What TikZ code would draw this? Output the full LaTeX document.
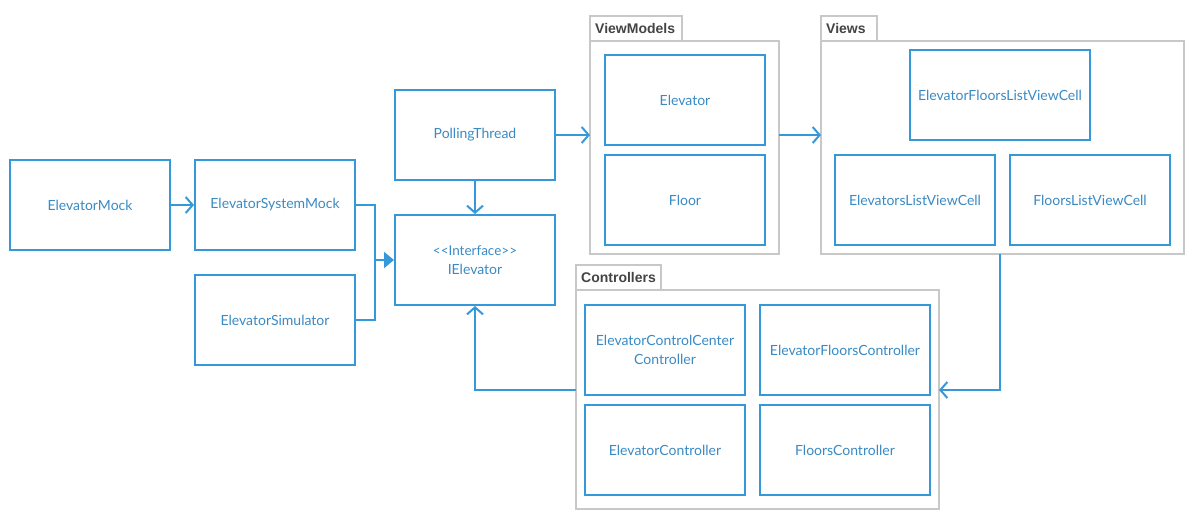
\documentclass[tikz,border=0pt]{standalone}
\usepackage{fontspec}
\setmainfont{Lato}
\newfontfamily\pkgfont{Liberation Sans}
\usetikzlibrary{arrows.meta}
\definecolor{umlblue}{HTML}{3498DB}
\definecolor{umltext}{HTML}{3A8AC4}
\definecolor{pkggray}{HTML}{C8C8C8}
\definecolor{pkgtext}{HTML}{444444}
\tikzset{
  cls/.style={draw=umlblue, line width=2pt, fill=white, text=umltext,
    font=\fontsize{14}{19}\selectfont, align=center, inner sep=0pt},
  pkg/.style={draw=pkggray, line width=2pt, fill=white},
  pkgtab/.style={text=pkgtext,
    font=\pkgfont\bfseries\fontsize{14}{16}\selectfont, anchor=base west,
    inner sep=0pt, align=left},
  link/.style={draw=umlblue, line width=2pt},
  open/.style={link, -{Straight Barb[length=7pt,width=16pt,line width=2pt]}},
  solid/.style={link, -{Triangle[length=10pt,width=16pt]}},
}
% class box: name, left, top, right, bottom, text
\newcommand{\clsbox}[6]{%
  \node[cls, minimum width=#4-#2, minimum height=#5-#3] (#1)
    at ({(#2+#4)/2},{(#3+#5)/2}) {#6};}
\begin{document}
\begin{tikzpicture}[x=1pt,y=-1pt]
\useasboundingbox (0,0) rectangle (1195,520);

% packages
\draw[pkg] (590,16) rectangle (682,41);
\node[pkgtab] (vmlabel) at (595,33) {ViewModels};
\draw[pkg] (590,41) rectangle (779,254);
\coordinate (vm) at (590,135);
\coordinate (vmR) at (779,135);

\draw[pkg] (821,16) rectangle (877,41);
\node[pkgtab] (vwlabel) at (826,33) {Views};
\draw[pkg] (821,41) rectangle (1184,254);
\coordinate (vw) at (821,135);
\coordinate (vwB) at (1000,254);

\draw[pkg] (576,265) rectangle (661,290);
\node[pkgtab] (ctlabel) at (581,282) {Controllers};
\draw[pkg] (576,290) rectangle (939,509);
\coordinate (ctR) at (939,390);
\coordinate (ctL) at (576,390);

% classes
\clsbox{mock}{10}{160}{170}{250}{ElevatorMock}
\clsbox{sysmock}{195}{160}{355}{250}{ElevatorSystemMock}
\clsbox{sim}{195}{275}{355}{365}{ElevatorSimulator}
\clsbox{poll}{395}{90}{555}{180}{PollingThread}
\clsbox{iel}{395}{215}{555}{305}{\fontsize{13.5}{19}\selectfont{<}{<}Interface{>}{>}\\IElevator}
\clsbox{velev}{605}{55}{765}{145}{Elevator}
\clsbox{vfloor}{605}{155}{765}{245}{Floor}
\clsbox{efl}{910}{50}{1090}{140}{ElevatorFloorsListViewCell}
\clsbox{elc}{835}{155}{995}{245}{ElevatorsListViewCell}
\clsbox{flc}{1010}{155}{1170}{245}{FloorsListViewCell}
\clsbox{eccc}{585}{305}{745}{395}{ElevatorControlCenter\\Controller}
\clsbox{efc}{760}{305}{930}{395}{ElevatorFloorsController}
\clsbox{ec}{585}{405}{745}{495}{ElevatorController}
\clsbox{fc}{760}{405}{930}{495}{FloorsController}

% connectors
\coordinate (join) at (375,260);
\draw[open] (mock.east) -- (sysmock.west);
\draw[link] (sysmock.east) -| (join);
\draw[link] (sim.east) -| (join);
\draw[solid] (join) -- (iel.west);
\draw[open] (poll.east) -- (vm);
\draw[open] (vmR) -- (vw);
\draw[open] (poll.south) -- (iel.north);
\draw[open] (vwB) |- (ctR);
\draw[open] (ctL) -| (iel.south);
\end{tikzpicture}
\end{document}
